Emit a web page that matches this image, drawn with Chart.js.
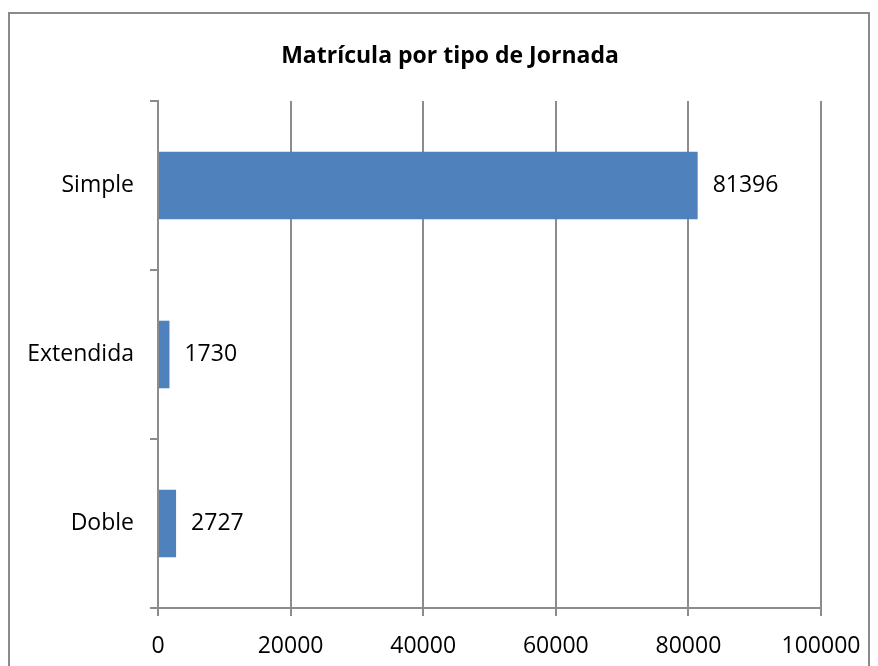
<!DOCTYPE html>
<html>
<head>
<meta charset="utf-8">
<script src="https://cdn.jsdelivr.net/npm/chart.js@4"></script>
<style>
  html, body { margin: 0; padding: 0; background: #fff; overflow: hidden; }
  #wrap { position: relative; width: 878px; height: 666px; }
  #frame { position: absolute; left: 8px; top: 12px; width: 862px; height: 700px; border: 2px solid #8a8a8a; box-sizing: border-box; }
  canvas { position: absolute; left: 0; top: 0; }
</style>
</head>
<body>
<div id="wrap">
  <div id="frame"></div>
  <canvas id="chart" width="878" height="666"></canvas>
</div>
<script>
const categories = ['Simple', 'Extendida', 'Doble'];
const matricula = [81396, 1730, 2727];
const xTicks = [0, 20000, 40000, 60000, 80000, 100000];
const chartTitle = 'Matrícula por tipo de Jornada';

const FONT = "'Open Sans', sans-serif";
const GRID = '#8c8c8c';

// title + value labels drawn by hand
const extras = {
  id: 'extras',
  afterDatasetsDraw(chart) {
    const ctx = chart.ctx;
    ctx.save();
    ctx.fillStyle = '#000';
    ctx.font = 'bold 23px ' + FONT;
    ctx.textAlign = 'center';
    ctx.textBaseline = 'middle';
    ctx.fillText(chartTitle, 450, 56);

    ctx.font = '23px ' + FONT;
    ctx.textAlign = 'left';
    chart.getDatasetMeta(0).data.forEach((bar, i) => {
      ctx.fillText(String(matricula[i]), bar.x + 15, bar.y);
    });
    ctx.restore();
  }
};

new Chart(document.getElementById('chart').getContext('2d'), {
  type: 'bar',
  data: {
    labels: categories,
    datasets: [{
      data: matricula,
      backgroundColor: '#4f81bd',
      barPercentage: 0.4,
      categoryPercentage: 1
    }]
  },
  options: {
    indexAxis: 'y',
    responsive: false,
    animation: false,
    layout: { padding: { top: 101, right: 57, left: 0, bottom: 0 } },
    plugins: {
      legend: { display: false },
      tooltip: { enabled: false },
      title: { display: false }
    },
    scales: {
      x: {
        min: 0,
        max: 100000,
        afterBuildTicks: (scale) => { scale.ticks = xTicks.map(v => ({ value: v })); },
        afterFit: (scale) => { scale.height = 58; },
        grid: { color: GRID, lineWidth: 2, tickLength: 8 },
        border: { color: GRID, width: 2 },
        ticks: {
          color: '#000', font: { family: FONT, size: 23 }, padding: 17, maxRotation: 0,
          callback: (v) => String(v)
        }
      },
      y: {
        afterFit: (scale) => { scale.width = 158; },
        grid: { color: GRID, lineWidth: 2, drawOnChartArea: false, tickLength: 8, offset: true },
        border: { color: GRID, width: 2 },
        ticks: { color: '#000', font: { family: FONT, size: 23 }, padding: 16 }
      }
    }
  },
  plugins: [extras]
});
</script>
</body>
</html>
